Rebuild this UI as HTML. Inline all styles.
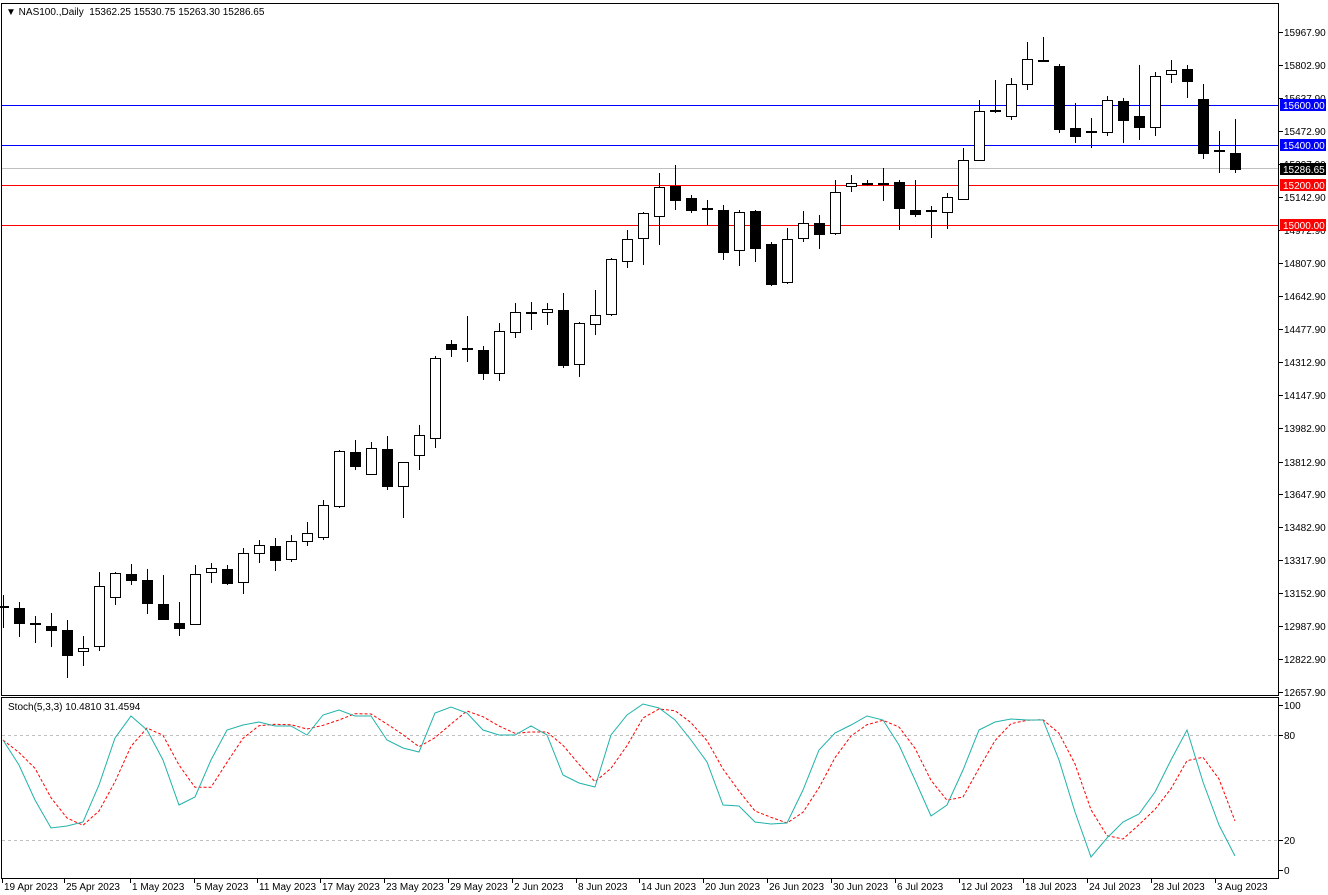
<!DOCTYPE html>
<html><head><meta charset="utf-8"><style>
body{margin:0;background:#fff;}
svg{display:block;font-family:"Liberation Sans",sans-serif;}
</style></head><body>
<svg id="s" width="1328" height="895" xmlns="http://www.w3.org/2000/svg">
<rect x="0" y="0" width="1328" height="895" fill="#fff"/>
<line x1="2" x2="1279" y1="168.5" y2="168.5" stroke="#c0c0c0"/>
<line x1="2" x2="1279" y1="105.5" y2="105.5" style="stroke:#0000ff"/>
<line x1="2" x2="1279" y1="145.5" y2="145.5" style="stroke:#0000ff"/>
<line x1="2" x2="1279" y1="185.5" y2="185.5" style="stroke:#ff0000"/>
<line x1="2" x2="1279" y1="225.5" y2="225.5" style="stroke:#ff0000"/>
<g id="g"></g>
</svg>
<script>
const g=document.getElementById('g');let h='';
const L=1279;
h+=`<rect x="1.5" y="3.5" width="${L-2}" height="692" fill="none" stroke="#000"/>`;
h+=`<rect x="1.5" y="697.5" width="${L-2}" height="181" fill="none" stroke="#000"/>`;
const labs=[['15967.90',32],['15802.90',65],['15637.90',98],['15472.90',131],['15307.90',164],['15142.90',197],['14972.90',230],['14807.90',263],['14642.90',296],['14477.90',329],['14312.90',362],['14147.90',395],['13982.90',428],['13812.90',462],['13647.90',494],['13482.90',527],['13317.90',560],['13152.90',593],['12987.90',626],['12822.90',659],['12657.90',692]];
labs.forEach(([t,y])=>{h+=`<line x1="${L}" x2="${L+4}" y1="${y+.5}" y2="${y+.5}" stroke="#000"/><text x="1284" y="${y+4}" font-size="10">${t}</text>`;});
[['15600.00',105,'#0000ff','#fff'],['15400.00',145,'#0000ff','#fff'],['15286.65',169,'#000','#fff'],['15200.00',185,'#ff0000','#fff'],['15000.00',225,'#ff0000','#fff']].forEach(([t,y,b,c])=>{h+=`<rect x="1280" y="${y-6}" width="46" height="12" fill="${b}"/><text x="1283" y="${y+4}" font-size="10" fill="${c}">${t}</text>`;});
const C=[[607,607,595,628],[608,623,602,637,1],[624,624,616,643],[626,630,613,647,1],[630,655,620,678,1],[648,651,636,666,0],[586,646,572,651,0],[573,597,572,605,0],[574,580,564,585,1],[580,603,569,614,1],[604,619,575,620,1],[623,628,602,636,1],[574,624,565,625,0],[568,572,563,583,0],[569,583,565,585,1],[553,582,548,594,0],[545,553,540,563,0],[546,560,538,571,1],[541,559,535,562,0],[533,541,522,546,0],[505,537,500,540,0],[451,506,450,508,0],[452,466,440,470,1],[448,474,442,474,0],[449,486,436,490,1],[462,486,462,518,0],[435,455,425,470,0],[358,438,356,448,0],[344,349,340,357,1],[349,349,316,362],[350,373,346,380,1],[331,373,323,381,0],[312,332,303,338,0],[313,313,302,330],[309,312,303,325,0],[310,365,293,368,1],[323,364,322,377,0],[315,324,290,335,0],[259,314,258,316,0],[239,261,230,268,0],[213,238,212,265,0],[187,216,173,245,0],[186,200,165,210,1],[198,210,195,213,1],[209,209,200,225],[210,252,205,260,1],[212,250,210,266,0],[211,248,210,262,1],[244,284,242,286,1],[239,282,228,284,0],[223,238,211,242,0],[223,234,215,249,1],[192,233,180,235,0],[183,186,175,192,0],[184,184,180,186],[184,184,168,201],[182,208,180,230,1],[210,214,180,217,1],[211,211,206,238],[197,212,193,229,0],[160,199,148,200,0],[111,160,100,160,0],[111,111,80,113],[84,116,78,120,0],[59,84,42,90,0],[61,61,37,62],[66,129,64,133,1],[128,136,103,143,1],[132,132,118,148],[100,132,96,136,0],[101,120,98,143,1],[116,127,65,140,1],[76,127,72,136,0],[70,74,60,83,0],[69,81,65,98,1],[99,153,84,159,1],[151,151,131,173],[153,169,119,173,1]];
C.forEach((c,i)=>{const x=3+16*i+.5;const[t,b,hi,lo,k]=c;
h+=`<line x1="${x}" x2="${x}" y1="${hi}" y2="${lo}" stroke="#000"/>`;
if(k===undefined){h+=`<rect x="${x-5.5}" y="${t-1}" width="11" height="2" fill="#000"/>`;}
else h+=`<rect x="${x-5}" y="${t+.5}" width="10" height="${Math.max(b-t,1)}" fill="${k?'#000':'#fff'}" stroke="#000"/>`;});
h+=`<text x="6" y="15" font-size="10">&#9660; NAS100.,Daily&nbsp; 15362.25 15530.75 15263.30 15286.65</text>`;
h+=`<text x="8" y="710" font-size="10">Stoch(5,3,3) 10.4810 31.4594</text>`;
[[735,'80'],[840,'20']].forEach(([y,t])=>{h+=`<line x1="2" x2="${L}" y1="${y+.5}" y2="${y+.5}" stroke="#c0c0c0" stroke-dasharray="3,3"/>`;});
[[705,'100'],[735,'80'],[840,'20'],[870,'0']].forEach(([y,t])=>{h+=`<line x1="${L}" x2="${L+4}" y1="${y+.5}" y2="${y+.5}" stroke="#000"/><text x="1284" y="${y+4}" font-size="10">${t}</text>`;});
const M=[740,765,800,828,826,822,785,738,716,730,760,805,797,760,730,725,722,726,726,735,715,710,716,716,740,748,752,713,707,713,730,735,735,726,735,775,783,787,735,715,704,708,720,740,762,805,806,822,824,823,790,750,733,725,716,720,745,780,816,805,770,730,722,719,720,720,760,812,857,838,822,814,792,760,730,782,825,856];
let p1='',p2='';M.forEach((y,i)=>{const x=3+16*i;p1+=(i?'L':'M')+x+' '+y;const a=M.slice(Math.max(0,i-2),i+1);const s=a.reduce((u,v)=>u+v,0)/a.length;p2+=(i?'L':'M')+x+' '+s.toFixed(1);});
h+=`<path d="${p2}" fill="none" stroke="#ff0000" stroke-dasharray="3,2"/>`;
h+=`<path d="${p1}" fill="none" stroke="#20b2aa"/>`;
const D=[['19 Apr 2023',4],['25 Apr 2023',66],['1 May 2023',132],['5 May 2023',196],['11 May 2023',259],['17 May 2023',322],['23 May 2023',386],['29 May 2023',450],['2 Jun 2023',514],['8 Jun 2023',578],['14 Jun 2023',641],['20 Jun 2023',705],['26 Jun 2023',769],['30 Jun 2023',833],['6 Jul 2023',897],['12 Jul 2023',961],['18 Jul 2023',1025],['24 Jul 2023',1089],['28 Jul 2023',1153],['3 Aug 2023',1217]];
D.forEach(([t,x])=>{h+=`<line x1="${x-1.5}" x2="${x-1.5}" y1="879" y2="883" stroke="#000"/><text x="${x}" y="890" font-size="10">${t}</text>`;});
g.innerHTML=h;
</script>
</body></html>
